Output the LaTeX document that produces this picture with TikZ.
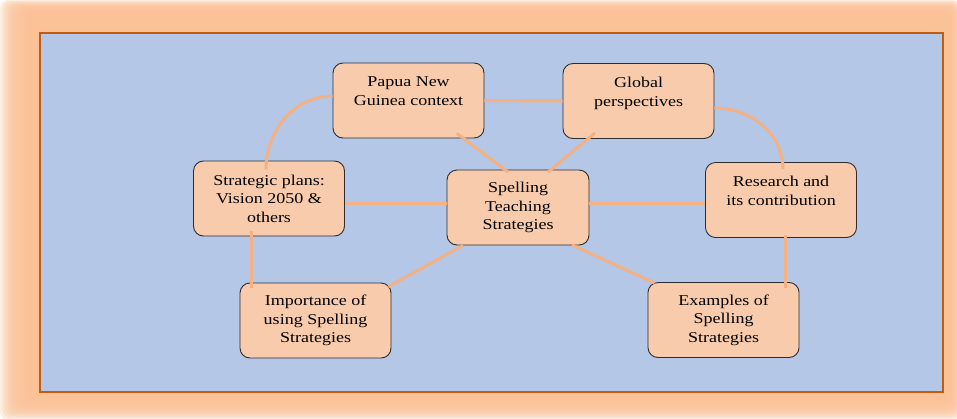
\documentclass[tikz,border=0pt]{standalone}
\usepackage{fontspec}
\setmainfont{Liberation Serif}[FakeStretch=1.2]
\definecolor{glowcol}{RGB}{251,194,152}
\definecolor{framecol}{RGB}{197,90,17}
\definecolor{panelcol}{RGB}{180,199,231}
\definecolor{boxfill}{RGB}{248,203,173}
\definecolor{boxline}{RGB}{45,45,45}
\definecolor{linkcol}{RGB}{244,177,131}
\tikzset{
  box/.style={draw=boxline, line width=0.9pt, fill=boxfill, rounded corners=10pt,
    minimum width=151pt, minimum height=75pt, inner sep=0pt, align=center,
    font=\fontsize{15}{18.5}\selectfont},
  link/.style={draw=linkcol, line width=3pt},
}
\begin{document}
\begin{tikzpicture}[x=1pt, y=-1pt]
  \useasboundingbox (0,0) rectangle (957,418);
  \fill[white] (0,0) rectangle (957,418);
  % soft orange glow around the panel
  \foreach \i in {0,...,11} {
    \fill[glowcol, opacity=0.28, rounded corners=8pt]
      (2.6*\i, 1.1*\i) rectangle (962-1.2*\i, 420-2*\i);
  }
  % blue panel with its frame
  \draw[line width=2pt, draw=framecol, fill=panelcol] (40,33) rectangle (943,392);

  % topic boxes
  \node[box] (png)  at (408.5,100.5) {Papua New\\Guinea context\\\mbox{}};
  \node[box] (glob) at (638.5,101)   {Global\\perspectives\\\mbox{}};
  \node[box] (strat) at (269,198.5)  {Strategic plans:\\Vision 2050 \&\\others};
  \node[box, minimum width=142pt] (spell) at (518,207.5) {Spelling\\Teaching\\Strategies};
  \node[box] (res)  at (781,200)     {Research and\\its contribution\\\mbox{}};
  \node[box] (imp)  at (315.5,320.5) {Importance of\\using Spelling\\Strategies};
  \node[box] (ex)   at (723.5,320)   {Examples of\\Spelling\\Strategies};

  % links between the boxes
  \draw[link] (png.east) -- (glob.west);
  \draw[link] ([yshift=4.5pt]png.west) to[out=180,in=90] ([xshift=-3pt,yshift=-9pt]strat.north);
  \draw[link] ([yshift=-7pt]glob.east) to[out=0,in=90] ([xshift=2pt,yshift=-7pt]res.north);
  \draw[link] ([xshift=48.5pt,yshift=5pt]png.south) -- ([xshift=-10pt,yshift=-2.5pt]spell.north);
  \draw[link] ([xshift=-43.5pt,yshift=6pt]glob.south) -- ([xshift=30pt,yshift=-2.5pt]spell.north);
  \draw[link] ([yshift=-4.5pt]strat.east) -- ([yshift=4.5pt]spell.west);
  \draw[link] ([yshift=4.5pt]spell.east) -- ([yshift=-3pt]res.west);
  \draw[link] ([xshift=-55pt]spell.south) -- ([xshift=-3pt,yshift=-4pt]imp.north east);
  \draw[link] ([xshift=54pt,yshift=0.5pt]spell.south) -- ([xshift=7pt,yshift=-1pt]ex.north west);
  \draw[link] ([xshift=-18pt,yshift=5pt]strat.south) -- ([xshift=-64.5pt,yshift=-5pt]imp.north);
  \draw[link] ([xshift=4pt,yshift=3pt]res.south) -- ([xshift=61.5pt,yshift=-6pt]ex.north);
\end{tikzpicture}
\end{document}
